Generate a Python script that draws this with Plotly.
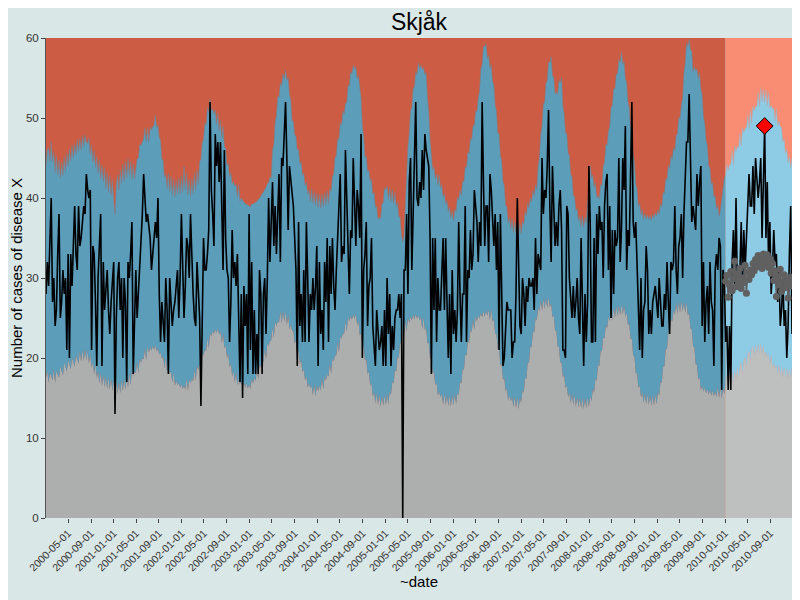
import pandas as pd
import plotly.graph_objects as go

# ---------------- data (weekly, Monday dates) ----------------
start_date = "2000-01-03"
current_year_start = "2010-01-01"
alert_date = "2010-08-02"

cases = [
    28, 32, 29, 35, 40, 27, 30, 24, 26, 33,
    38, 25, 27, 31, 28, 30, 21, 33, 20, 33,
    29, 34, 39, 33, 31, 39, 34, 35, 37, 39,
    38, 43, 41, 40, 41, 21, 34, 33, 27, 19,
    30, 35, 38, 19, 32, 26, 29, 31, 26, 23,
    27, 29, 32, 13, 25, 30, 32, 26, 30, 20,
    30, 27, 17, 32, 30, 33, 37, 18, 26, 31,
    25, 28, 31, 34, 38, 43, 39, 37, 38, 36,
    35, 31, 33, 34, 37, 35, 40, 28, 22, 27,
    24, 22, 30, 26, 18, 30, 27, 24, 26, 27,
    29, 31, 25, 30, 38, 30, 25, 29, 35, 34,
    30, 38, 31, 28, 25, 24, 32, 29, 25, 14,
    27, 35, 31, 31, 33, 36, 52, 41, 38, 34,
    48, 44, 47, 42, 47, 38, 31, 46, 35, 31,
    30, 22, 27, 36, 30, 32, 29, 33, 23, 17,
    28, 15, 29, 24, 28, 18, 38, 21, 32, 18,
    26, 18, 23, 18, 31, 28, 18, 28, 30, 23,
    30, 40, 32, 36, 42, 34, 39, 33, 38, 43,
    32, 45, 44, 48, 52, 45, 36, 44, 42, 41,
    39, 35, 31, 19, 37, 24, 28, 22, 31, 22,
    37, 30, 22, 28, 26, 30, 26, 29, 34, 19,
    32, 23, 26, 21, 32, 27, 35, 22, 34, 28,
    35, 29, 26, 31, 35, 38, 43, 32, 34, 33,
    46, 40, 34, 28, 36, 35, 45, 39, 34, 41,
    39, 35, 48, 20, 31, 33, 37, 24, 29, 30,
    35, 24, 21, 19, 26, 24, 21, 22, 24, 19,
    26, 19, 30, 23, 28, 19, 24, 21, 25, 26,
    26, 28, 25, 28, 0, 31, 31, 38, 28, 42,
    45, 31, 40, 45, 52, 40, 39, 42, 40, 46,
    41, 48, 46, 45, 44, 35, 18, 35, 26, 35,
    22, 30, 26, 26, 30, 35, 26, 35, 27, 20,
    28, 18, 31, 23, 26, 22, 26, 37, 28, 22,
    28, 28, 39, 22, 31, 30, 36, 31, 33, 41,
    39, 37, 32, 37, 34, 52, 42, 34, 39, 39,
    32, 43, 41, 38, 34, 38, 31, 37, 21, 38,
    30, 19, 20, 24, 27, 26, 26, 26, 20, 22,
    22, 28, 40, 30, 24, 23, 30, 28, 24, 29,
    27, 30, 29, 29, 30, 26, 35, 28, 33, 32,
    31, 45, 38, 41, 40, 44, 51, 39, 32, 44,
    37, 34, 37, 34, 39, 41, 36, 21, 21, 20,
    39, 38, 30, 28, 25, 29, 25, 27, 30, 25,
    23, 35, 26, 19, 28, 22, 27, 44, 37, 22,
    22, 35, 22, 38, 33, 39, 36, 37, 30, 39,
    42, 43, 31, 39, 25, 36, 28, 36, 34, 35,
    45, 32, 36, 45, 41, 49, 31, 36, 34, 42,
    52, 37, 35, 37, 31, 26, 21, 30, 20, 26,
    27, 34, 31, 23, 26, 23, 27, 28, 29, 27,
    25, 30, 26, 24, 24, 28, 26, 32, 27, 23,
    32, 31, 32, 39, 31, 28, 34, 35, 38, 30,
    38, 42, 47, 47, 53, 45, 37, 39, 37, 36,
    43, 39, 42, 44, 24, 32, 22, 27, 29, 23,
    32, 27, 26, 19, 31, 33, 31, 35, 34, 16,
    31, 30, 22, 24, 16, 24, 16, 32, 36, 29,
    40, 29, 31, 31, 37, 29, 36, 31, 35, 40,
    43, 39, 39, 44, 38, 45, 42, 40, 42, 45,
    35, 43, 49, 35, 42, 32, 37, 28, 31, 36,
    32, 33, 27, 31, 24, 26, 30, 24, 26, 20,
    24, 33, 39, 23,
]

upper = [
    44.0, 45.9, 46.3, 44.6, 47.1, 44.5, 45.8, 43.2, 45.3, 42.9,
    44.8, 42.4, 44.5, 42.8, 45.2, 43.3, 45.6, 44.0, 46.1, 44.6,
    46.6, 45.0, 46.8, 45.4, 47.3, 45.8, 47.4, 46.0, 47.8, 46.4,
    47.9, 47.0, 46.8, 47.5, 45.4, 46.7, 44.5, 45.9, 43.8, 45.2,
    43.1, 44.8, 42.4, 44.1, 42.0, 43.8, 41.1, 43.2, 40.7, 42.8,
    40.3, 42.3, 39.8, 37.9, 41.6, 42.9, 41.0, 43.5, 41.8, 44.2,
    42.1, 44.6, 42.5, 44.9, 42.8, 44.6, 42.3, 44.3, 42.4, 44.0,
    44.9, 45.0, 46.7, 46.6, 47.0, 47.4, 48.8, 47.1, 48.7, 47.0,
    48.9, 48.5, 48.9, 49.1, 50.4, 48.8, 49.1, 47.6, 47.2, 44.9,
    44.7, 42.6, 42.9, 41.2, 43.1, 40.8, 42.7, 40.3, 42.4, 40.1,
    42.2, 40.4, 42.5, 40.5, 42.8, 40.7, 44.0, 41.0, 43.1, 40.4,
    42.3, 40.2, 42.4, 40.6, 43.2, 40.9, 43.5, 41.7, 44.6, 44.8,
    46.9, 47.3, 49.4, 49.1, 51.3, 50.7, 52.4, 51.0, 51.1, 50.5,
    51.0, 49.2, 50.6, 48.4, 49.7, 47.5, 49.0, 46.4, 46.2, 44.1,
    44.3, 42.6, 43.2, 41.7, 42.1, 41.5, 41.7, 40.1, 41.6, 39.6,
    40.0, 39.7, 39.5, 39.3, 39.2, 39.1, 39.1, 38.9, 39.3, 39.2,
    39.4, 39.4, 39.6, 39.8, 39.9, 40.2, 40.6, 40.7, 41.1, 41.3,
    41.8, 41.9, 42.6, 42.5, 46.0, 46.7, 49.5, 50.3, 52.7, 52.6,
    54.4, 54.0, 55.5, 54.9, 56.0, 54.7, 55.1, 52.9, 52.3, 49.7,
    49.6, 47.9, 47.7, 46.0, 46.1, 44.2, 44.6, 42.8, 43.1, 41.5,
    42.0, 40.5, 41.0, 39.5, 41.2, 39.3, 40.8, 39.0, 40.6, 38.8,
    40.4, 38.7, 40.5, 38.9, 40.7, 39.1, 40.9, 39.3, 41.2, 40.8,
    42.7, 43.0, 45.1, 45.3, 47.4, 47.3, 49.4, 49.1, 50.9, 50.4,
    51.8, 51.9, 54.1, 54.0, 55.8, 55.5, 56.6, 56.1, 56.4, 54.9,
    55.3, 53.5, 52.5, 49.0, 47.7, 45.1, 45.2, 43.3, 43.5, 42.1,
    42.4, 40.5, 40.7, 38.8, 39.0, 37.3, 37.6, 37.4, 39.3, 39.4,
    41.3, 41.0, 41.5, 39.8, 41.3, 39.6, 41.1, 39.3, 40.7, 38.9,
    39.5, 37.7, 37.6, 35.4, 34.5, 35.3, 39.1, 42.0, 46.4, 48.1,
    50.9, 51.3, 53.7, 53.9, 55.8, 55.4, 56.9, 56.2, 56.6, 56.0,
    56.3, 55.4, 55.7, 52.6, 50.9, 47.3, 45.4, 43.5, 43.9, 42.4,
    43.0, 41.6, 42.9, 41.2, 41.7, 40.1, 40.6, 39.2, 39.7, 38.3,
    38.9, 37.5, 38.3, 37.2, 38.6, 38.3, 40.1, 39.8, 41.0, 40.3,
    42.1, 42.0, 43.9, 43.8, 45.7, 45.6, 47.4, 47.3, 49.1, 49.0,
    50.9, 50.8, 52.5, 53.3, 56.1, 56.7, 59.0, 58.9, 59.3, 57.4,
    57.8, 56.2, 56.7, 54.6, 54.1, 51.6, 50.9, 48.2, 48.0, 45.3,
    44.7, 42.1, 41.5, 39.1, 38.9, 36.9, 37.6, 36.1, 37.4, 35.7,
    37.0, 35.5, 36.9, 35.4, 36.8, 35.5, 37.1, 36.7, 38.3, 37.8,
    39.4, 38.7, 40.0, 39.5, 40.9, 40.3, 41.7, 41.1, 44.0, 45.1,
    47.9, 49.0, 51.8, 51.9, 54.3, 54.7, 57.0, 56.9, 57.7, 55.3,
    55.1, 53.0, 53.3, 52.9, 54.7, 54.4, 55.1, 51.6, 50.5, 48.1,
    48.1, 45.7, 45.3, 43.0, 42.7, 40.3, 40.2, 38.4, 38.7, 37.1,
    37.7, 36.4, 37.8, 36.3, 37.6, 36.9, 39.5, 41.0, 44.1, 42.5,
    42.9, 41.3, 41.9, 40.0, 40.3, 39.9, 41.7, 41.5, 44.0, 44.4,
    46.7, 46.6, 48.4, 48.9, 51.3, 51.6, 53.7, 53.6, 55.5, 55.5,
    57.3, 57.0, 58.3, 56.7, 57.1, 54.9, 54.5, 52.0, 51.3, 48.7,
    48.3, 45.4, 44.5, 41.7, 41.1, 38.9, 39.4, 37.9, 38.6, 37.3,
    38.1, 37.4, 37.9, 37.3, 37.8, 37.2, 38.0, 37.5, 38.2, 37.7,
    38.5, 38.0, 39.3, 38.9, 40.7, 40.6, 42.4, 42.3, 44.1, 43.7,
    45.3, 44.8, 46.3, 45.9, 47.8, 48.0, 50.1, 49.9, 51.6, 52.5,
    55.7, 56.9, 59.4, 58.9, 59.8, 58.6, 58.3, 55.8, 56.4, 55.9,
    56.2, 54.9, 55.7, 53.6, 52.9, 50.1, 49.4, 47.2, 46.6, 44.1,
    43.7, 41.7, 42.0, 40.1, 40.3, 38.6, 39.1, 37.7, 38.5, 39.8, 41.2, 42.5,
    42.8, 44.2, 43.5, 44.1, 44.3, 45.9, 44.1, 46.5, 45.8, 46.4,
    46.3, 48.1, 46.5, 48.8, 48.2, 48.7, 48.8, 50.4, 48.7, 51.0,
    49.3, 51.5, 50.9, 51.4, 51.5, 53.2, 51.4, 53.8, 52.0, 53.6,
    51.9, 53.5, 51.6, 53.2, 51.2, 51.6, 51.1, 51.3, 49.6, 51.2,
    49.1, 49.6, 48.9, 48.8, 47.0, 47.4, 45.6, 46.1, 44.4, 45.2,
    43.8, 45.1,
]

lower = [
    17.5, 18.4, 16.9, 18.1, 17.8, 17.2, 18.6, 16.9, 18.4, 18.0,
    17.5, 18.9, 18.3, 17.8, 19.4, 18.8, 18.3, 19.7, 19.1, 18.6,
    20.0, 19.4, 18.9, 20.3, 19.7, 19.3, 20.8, 19.5, 21.0, 19.6,
    21.1, 19.7, 20.9, 19.3, 20.4, 18.8, 19.5, 17.9, 19.2, 17.5,
    18.3, 16.8, 18.2, 16.5, 17.9, 16.3, 17.7, 16.1, 17.6, 16.0,
    17.4, 15.8, 17.2, 15.7, 17.1, 15.5, 17.0, 15.6, 17.2, 15.8,
    17.4, 16.0, 17.7, 16.3, 18.0, 16.6, 18.4, 17.8, 18.3, 18.1,
    19.5, 18.1, 19.9, 19.4, 20.0, 19.8, 21.2, 19.7, 21.4, 20.7,
    21.3, 20.9, 21.5, 21.0, 21.6, 20.8, 21.2, 20.4, 20.7, 19.9,
    20.2, 18.7, 20.0, 18.2, 18.8, 18.1, 18.3, 16.9, 18.2, 16.5,
    17.2, 16.6, 16.9, 16.3, 16.7, 16.1, 16.6, 16.0, 17.4, 15.9,
    17.3, 16.8, 17.4, 17.1, 18.5, 17.2, 19.0, 18.5, 19.2, 19.1,
    20.7, 20.3, 21.0, 20.9, 22.5, 21.2, 23.1, 22.7, 23.4, 23.0,
    23.6, 23.1, 23.7, 22.9, 23.3, 21.8, 23.1, 21.2, 21.6, 20.0,
    20.5, 18.8, 19.3, 17.7, 18.4, 16.9, 18.2, 16.6, 17.3, 16.7,
    17.1, 16.4, 16.9, 16.3, 16.8, 16.2, 16.7, 16.1, 17.4, 16.8,
    17.5, 17.1, 18.6, 17.3, 19.2, 18.8, 19.5, 19.5, 21.1, 19.8,
    21.8, 21.5, 22.1, 22.2, 23.8, 22.5, 24.5, 24.0, 24.6, 24.4,
    25.8, 24.3, 25.9, 24.5, 25.8, 24.1, 25.4, 23.6, 24.1, 23.4,
    23.4, 21.8, 22.2, 20.5, 21.0, 19.3, 19.7, 18.2, 18.6, 17.2,
    17.7, 16.3, 16.8, 16.2, 16.6, 15.3, 16.7, 15.2, 16.5, 15.9,
    16.5, 16.0, 17.4, 16.1, 17.7, 17.2, 17.9, 17.7, 19.3, 18.0,
    19.9, 19.6, 20.3, 20.3, 22.0, 20.7, 22.7, 22.4, 23.1, 23.0,
    24.6, 23.3, 25.1, 24.6, 25.2, 24.8, 25.4, 24.9, 25.5, 24.1,
    24.6, 22.8, 23.1, 21.4, 21.5, 19.7, 19.9, 18.0, 18.3, 16.5,
    16.9, 15.2, 15.7, 14.3, 15.6, 14.1, 15.4, 13.9, 15.3, 14.0,
    15.4, 14.1, 15.5, 14.2, 15.8, 15.4, 17.0, 16.8, 18.5, 18.3,
    20.2, 20.0, 21.9, 21.7, 23.4, 23.0, 24.6, 23.3, 25.0, 24.4,
    25.1, 24.7, 25.4, 24.8, 25.5, 24.9, 25.3, 24.7, 25.1, 23.6,
    25.1, 23.5, 23.7, 21.8, 21.9, 19.9, 20.0, 18.1, 18.3, 16.6,
    16.9, 15.3, 15.8, 15.1, 15.5, 14.2, 15.6, 14.1, 15.4, 14.0,
    15.3, 13.9, 15.4, 14.1, 15.5, 14.2, 15.7, 15.3, 17.0, 16.8,
    18.6, 18.5, 20.4, 20.3, 22.1, 21.9, 23.6, 23.2, 24.8, 23.5,
    25.2, 24.6, 25.3, 24.9, 25.6, 25.1, 25.8, 25.2, 25.9, 25.3,
    26.0, 24.7, 26.1, 24.5, 24.8, 23.0, 23.1, 21.1, 21.1, 19.1,
    19.2, 17.3, 17.5, 15.8, 16.2, 14.7, 15.3, 14.6, 15.1, 13.8,
    15.2, 13.7, 15.1, 13.6, 15.0, 14.4, 16.0, 15.7, 17.5, 17.4,
    19.4, 19.4, 21.4, 21.4, 23.3, 23.2, 25.0, 24.7, 26.3, 25.8,
    27.2, 25.9, 27.4, 26.1, 27.5, 26.2, 27.6, 26.3, 26.8, 25.1,
    25.3, 23.4, 23.4, 21.4, 21.4, 19.4, 19.5, 17.6, 17.9, 16.2,
    16.6, 15.1, 15.7, 14.3, 15.6, 14.1, 15.4, 13.9, 15.2, 13.8,
    15.1, 13.7, 15.0, 13.6, 15.0, 13.7, 15.1, 13.8, 15.2, 14.6,
    16.1, 15.7, 17.4, 17.2, 19.1, 19.0, 20.9, 20.8, 22.6, 22.4,
    24.1, 23.7, 25.2, 24.6, 26.0, 24.7, 26.3, 25.0, 26.5, 25.2,
    26.6, 25.3, 26.7, 25.4, 26.6, 25.1, 25.7, 24.1, 24.3, 22.4,
    22.4, 20.3, 20.2, 18.1, 18.1, 16.3, 16.6, 15.1, 15.7, 14.3,
    15.6, 14.2, 15.5, 14.1, 15.4, 14.0, 15.3, 14.1, 15.5, 14.2,
    15.7, 15.3, 17.0, 16.9, 18.9, 19.0, 21.1, 21.2, 23.2, 23.1,
    24.9, 24.5, 26.0, 25.4, 26.8, 25.5, 27.0, 25.7, 27.1, 25.8,
    27.0, 25.6, 26.9, 25.3, 25.6, 23.7, 23.6, 21.5, 21.3, 19.2,
    19.2, 17.3, 17.6, 16.0, 16.5, 15.8, 16.3, 15.6, 16.1, 15.4,
    16.0, 15.3, 15.9, 15.2, 15.8, 15.1, 16.4, 15.0, 16.3, 14.9, 16.2, 15.5,
    17.0, 17.9, 16.4, 18.1, 16.7, 18.3, 16.9, 18.5, 17.2, 18.8,
    17.5, 19.1, 19.4, 18.0, 19.7, 20.1, 18.8, 20.5, 20.9, 19.6,
    21.2, 21.5, 20.1, 21.7, 20.4, 21.9, 20.5, 21.8, 20.3, 21.7,
    20.2, 20.8, 20.1, 20.5, 19.1, 20.4, 18.8, 19.4, 18.7, 19.1,
    17.8, 19.2, 17.7, 19.0, 17.5, 18.9, 17.4, 18.8, 17.3, 18.7,
    17.4, 18.8,
]

baseline_2010 = [
    29.6, 30.3, 27.6, 29.1, 30.8, 28.4, 29.9, 32.1, 28.9, 30.5,
    29.3, 31.2, 28.7, 30.0, 29.4, 31.6, 28.1, 30.7, 29.8, 31.0,
    30.4, 31.8, 30.9, 32.3, 31.4, 32.8, 31.9, 32.5, 31.2, 33.0,
    32.2, 31.7, 32.9, 31.3, 32.4, 30.6, 31.8, 29.7, 30.9, 27.7,
    30.2, 29.1, 31.1, 28.3, 29.6, 30.4, 28.8, 29.9, 27.5, 29.3,
    30.1, 29.0,
]

y_ticks = [0, 10, 20, 30, 40, 50, 60]
title_text = "Skjåk"
y_title = "Number of cases of disease X"
x_title = "~date"

# ---------------- colours ----------------
BG = "#DAE7E7"
RED = "#CC5C44"
BLUE = "#5C9DBA"
GREY = "#ADAFAE"
RED_CUR = "#F98D73"
BLUE_CUR = "#8ECBE5"
GREY_CUR = "#BEC0C0"

# ---------------- build ----------------
n = min(len(cases), len(upper), len(lower))
cases, upper, lower = cases[:n], upper[:n], lower[:n]
dates = pd.date_range(start_date, periods=n, freq="7D")
cut = int((dates < pd.Timestamp(current_year_start)).sum())

fig = go.Figure()

# historic bands
fig.add_trace(go.Scatter(x=dates[:cut + 1], y=lower[:cut + 1], mode="lines",
                         line=dict(width=0, color=GREY), fill="tozeroy",
                         fillcolor=GREY, hoverinfo="skip", showlegend=False))
fig.add_trace(go.Scatter(x=dates[:cut + 1], y=upper[:cut + 1], mode="lines",
                         line=dict(width=0.8, color="rgba(125,125,135,0.7)"),
                         fill="tonexty", fillcolor=BLUE, hoverinfo="skip",
                         showlegend=False))
# current year bands
fig.add_trace(go.Scatter(x=dates[cut:], y=lower[cut:], mode="lines",
                         line=dict(width=0, color=GREY_CUR), fill="tozeroy",
                         fillcolor=GREY_CUR, hoverinfo="skip", showlegend=False))
fig.add_trace(go.Scatter(x=dates[cut:], y=upper[cut:], mode="lines",
                         line=dict(width=0.8, color="rgba(170,170,180,0.6)"),
                         fill="tonexty", fillcolor=BLUE_CUR, hoverinfo="skip",
                         showlegend=False))

# observed cases
fig.add_trace(go.Scatter(x=dates, y=cases, mode="lines",
                         line=dict(color="black", width=1.6),
                         showlegend=False))

# baseline for current year
bx = dates[cut:cut + len(baseline_2010)]
fig.add_trace(go.Scatter(x=bx, y=baseline_2010[:len(bx)], mode="lines+markers",
                         line=dict(color="#606060", width=1.5),
                         marker=dict(color="#606060", size=7),
                         showlegend=False))

# alert marker
ai = dates.get_loc(pd.Timestamp(alert_date))
fig.add_trace(go.Scatter(x=[dates[ai]], y=[cases[ai]], mode="markers",
                         marker=dict(symbol="diamond", size=13, color="#FF0000",
                                     line=dict(color="black", width=1)),
                         showlegend=False))

# background regions above threshold
fig.add_shape(type="rect", xref="x", yref="paper", x0=dates[0], x1=dates[cut],
              y0=0, y1=1, fillcolor=RED, line=dict(width=0), layer="below")
fig.add_shape(type="rect", xref="x", yref="paper", x0=dates[cut], x1=dates[-1],
              y0=0, y1=1, fillcolor=RED_CUR, line=dict(width=0), layer="below")

tickvals = pd.date_range("2000-05-01", dates[-1], freq="4MS")

fig.update_layout(
    width=800, height=600,
    paper_bgcolor=BG, plot_bgcolor=BG,
    margin=dict(l=38, r=16, t=30, b=90, autoexpand=False),
    font=dict(family="Liberation Sans, Arial, sans-serif", color="#222"),
    title=dict(text=title_text, xref="paper", x=0.5, xanchor="center",
               y=0.976, yanchor="middle",
               font=dict(size=23, color="black")),
    xaxis=dict(range=[dates[0], dates[-1]], tickvals=list(tickvals),
               ticktext=[d.strftime("%Y-%m-%d") for d in tickvals],
               tickangle=-45, ticks="outside", ticklen=4, tickcolor="#444",
               tickfont=dict(size=10.5, color="#333"), showgrid=False,
               zeroline=False, showline=False, automargin=False,
               title=dict(text=x_title, font=dict(size=15, color="black"),
                          standoff=2)),
    yaxis=dict(range=[0, 60], tickvals=y_ticks, ticks="outside", ticklen=4,
               tickcolor="#444", tickfont=dict(size=11.5, color="#333"),
               showgrid=False, zeroline=False, showline=True, linecolor="#555",
               linewidth=1, automargin=False,
               title=dict(text=y_title, font=dict(size=15, color="black"),
                          standoff=1)),
)

fig.write_html("out.html")
